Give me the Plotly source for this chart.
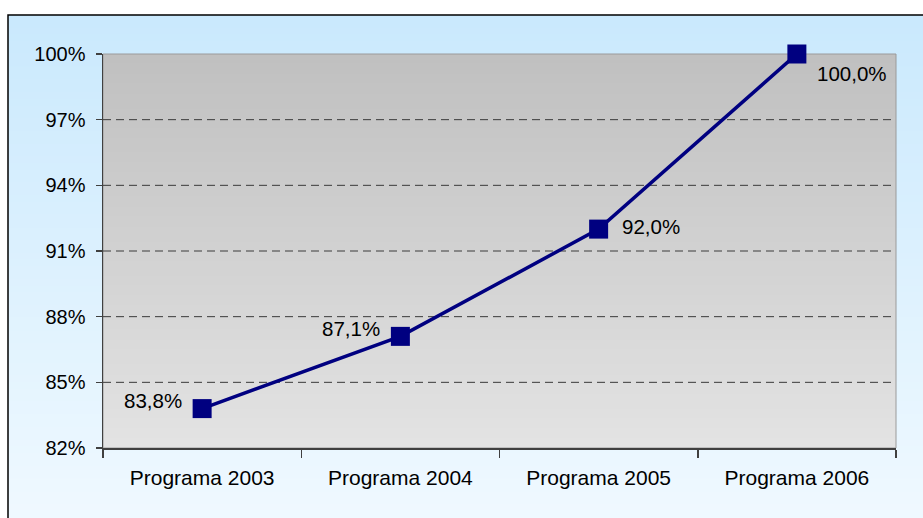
import plotly.graph_objects as go

categories = ["Programa 2003", "Programa 2004", "Programa 2005", "Programa 2006"]
values = [83.8, 87.1, 92.0, 100.0]
value_labels = ["83,8%", "87,1%", "92,0%", "100,0%"]
y_ticks = [82, 85, 88, 91, 94, 97, 100]
y_tick_labels = ["82%", "85%", "88%", "91%", "94%", "97%", "100%"]

W, H = 923, 518
ML, MR, MT, MB = 103, 27, 54, 70
PW, PH = W - ML - MR, H - MT - MB

def px_to_paper_x(px):
    return (px - ML) / PW

def px_to_paper_y(py):
    return (H - MB - py) / PH

def lerp(c0, c1, t):
    return tuple(round(a + (b - a) * t) for a, b in zip(c0, c1))

shapes = []
# outer chart-area gradient (light blue)
N = 80
ox0, ox1 = px_to_paper_x(8), px_to_paper_x(940)
oy_top, oy_bot = px_to_paper_y(15), px_to_paper_y(530)
top_c, bot_c = (202, 233, 253), (240, 249, 255)
for i in range(N):
    t = i / (N - 1)
    c = lerp(top_c, bot_c, t)
    y1 = oy_top + (oy_bot - oy_top) * i / N
    y0 = oy_top + (oy_bot - oy_top) * (i + 1.5) / N
    shapes.append(dict(type="rect", xref="paper", yref="paper", x0=ox0, x1=ox1,
                       y0=max(y0, oy_bot), y1=y1, line=dict(width=0),
                       fillcolor="rgb(%d,%d,%d)" % c, layer="below"))
# outer border
shapes.append(dict(type="rect", xref="paper", yref="paper", x0=ox0, x1=ox1,
                   y0=oy_bot, y1=oy_top, line=dict(color="#000000", width=1.5),
                   fillcolor="rgba(0,0,0,0)", layer="below"))
# plot-area gradient (gray)
ptop, pbot = (192, 192, 192), (227, 227, 227)
for i in range(N):
    t = i / (N - 1)
    c = lerp(ptop, pbot, t)
    y1 = 1 - i / N
    y0 = 1 - (i + 1.5) / N
    shapes.append(dict(type="rect", xref="paper", yref="paper", x0=0, x1=1,
                       y0=max(y0, 0), y1=y1, line=dict(width=0),
                       fillcolor="rgb(%d,%d,%d)" % c, layer="below"))
# plot border (top/right light gray)
shapes.append(dict(type="rect", xref="paper", yref="paper", x0=0, x1=1, y0=0, y1=1,
                   line=dict(color="#9a9a9a", width=1), fillcolor="rgba(0,0,0,0)",
                   layer="below"))
# dashed grid lines
for v in y_ticks[1:-1]:
    shapes.append(dict(type="line", xref="paper", yref="y", x0=0, x1=1, y0=v, y1=v,
                       line=dict(color="#3a3a3a", width=1, dash="8px,5px"), layer="below"))

fig = go.Figure()
fig.add_trace(go.Scatter(
    x=categories, y=values, mode="lines+markers",
    line=dict(color="#000080", width=3.5),
    marker=dict(symbol="square", size=19, color="#000080"),
    hoverinfo="skip", showlegend=False, cliponaxis=False,
))

offsets = [(-18, 8, "right"), (-18, 8, "right"), (21, 3, "left"), (18, -19, "left")]
annotations = []
for cat, v, lab, (dx, dy, anc) in zip(categories, values, value_labels, offsets):
    annotations.append(dict(x=cat, y=v, xref="x", yref="y", text=lab, showarrow=False,
                            xanchor=anc, yanchor="middle", xshift=dx, yshift=dy,
                            font=dict(family="Liberation Sans, Arial", size=20.5, color="#000000")))

fig.update_layout(
    width=W, height=H,
    margin=dict(l=ML, r=MR, t=MT, b=MB),
    paper_bgcolor="#ffffff",
    plot_bgcolor="rgba(0,0,0,0)",
    shapes=shapes,
    annotations=annotations,
    font=dict(family="Liberation Sans, Arial", size=20, color="#000000"),
    xaxis=dict(
        type="category", showgrid=False, showline=True, linecolor="#404040", linewidth=1.5,
        ticks="outside", tickson="boundaries", ticklen=8, tickcolor="#404040", tickwidth=1.5,
        range=[-0.5, 3.5], fixedrange=True, tickfont=dict(size=21), ticklabelstandoff=10,
    ),
    yaxis=dict(
        range=[82, 100], tickvals=y_ticks, ticktext=y_tick_labels, showgrid=False,
        showline=True, linecolor="#404040", linewidth=1.5, ticks="outside", ticklen=6,
        tickcolor="#404040", tickwidth=1.5, zeroline=False, tickfont=dict(size=20),
        ticklabelstandoff=6, fixedrange=True,
    ),
)

fig.write_html("out.html", config={"displayModeBar": False, "staticPlot": True},
               post_script="document.body.style.margin='0';document.body.style.overflow='hidden';")
